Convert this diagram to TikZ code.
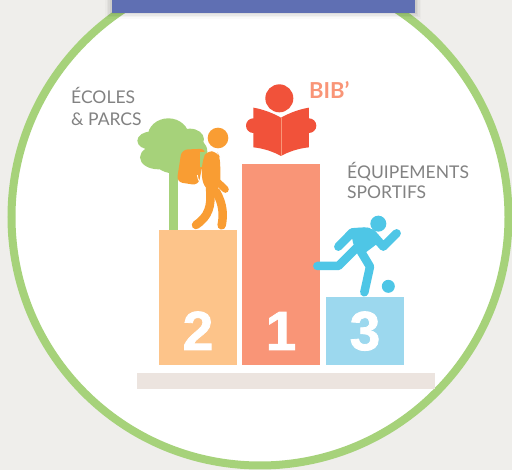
\documentclass[tikz,border=0pt]{standalone}
\usepackage{fontspec}
\setmainfont{Lato}
\newfontfamily\digitfont{Liberation Sans}[FakeBold=1.5]
\definecolor{bgc}{HTML}{EFEEEB}
\definecolor{ringc}{HTML}{A6D27A}
\definecolor{bannerc}{HTML}{5F6FB3}
\definecolor{basec}{HTML}{ECE4DF}
\definecolor{orangeL}{HTML}{FDC48A}
\definecolor{salmon}{HTML}{F99577}
\definecolor{skyL}{HTML}{9CD8EE}
\definecolor{hiker}{HTML}{F99D33}
\definecolor{reader}{HTML}{F1523A}
\definecolor{runner}{HTML}{4EC6E6}
\definecolor{labelc}{HTML}{828282}
\tikzset{
  rank/.style={text=white,font=\digitfont\fontsize{55}{55}\selectfont\bfseries,anchor=base,inner sep=0pt},
  lab/.style={text=labelc,font=\fontsize{17.5}{17.5}\selectfont,anchor=base west,inner sep=0pt},
  limb/.style={line cap=round,line join=round}
}
\begin{document}
\begin{tikzpicture}[x=1pt,y=-1pt]
\useasboundingbox (0,0) rectangle (512,470);
\clip (0,0) rectangle (512,470);
\fill[bgc] (0,0) rectangle (512,470);
\fill[white,draw=ringc,line width=8pt] (260,217) circle (248.5);
% banner shadow
\foreach \d/\o in {6/.02,4.5/.03,3/.04,1.5/.05}{
  \fill[black,opacity=\o] (111-\d,-5) rectangle (415+\d,13+\d);
}
\fill[bannerc] (111.5,-5) rectangle (414.5,13);
% base
\fill[basec] (137,373) rectangle (435,389);
% tree
\begin{scope}[shift={(130,80)},x=.3333pt,y=-.3333pt]
  \fill[ringc] (117,270) rectangle (143,450);
  \fill[ringc] (115,170) ellipse (62 and 55);
  \fill[ringc] (62,182) ellipse (40 and 27);
  \fill[ringc] (85,232) ellipse (55 and 36);
  \fill[ringc] (180,178) ellipse (42 and 32);
  \fill[ringc] (130,225) ellipse (65 and 55);
  \fill[ringc] (190,215) ellipse (42 and 42);
\end{scope}
% podiums
\fill[orangeL] (159,230) rectangle (237,365);
\fill[salmon] (242,164) rectangle (320,365);
\fill[skyL] (326,297) rectangle (404,365);
\node[rank] (two) at (198,350) {2};
\node[rank] (one) at (281,350) {1};
\node[rank] (three) at (365,350) {3};
% hiker
\begin{scope}[shift={(130,80)},x=.3333pt,y=-.3333pt]
  \fill[hiker] (264,174) circle (31);
  \fill[hiker,rounded corners=6pt] (155,209) -- (228,206) -- (205,316) -- (140,306) -- cycle;
  \fill[ringc] (209,216) rectangle (226,262);
  \draw[white,line width=.8pt] (202,285) .. controls (204,300) and (210,312) .. (222,320);
  \fill[hiker,rounded corners=6pt] (230,212) -- (262,216) -- (270,232) -- (272,305) -- (255,345) -- (225,325) -- (214,290) -- (218,240) -- cycle;
  \draw[hiker,limb,line width=7pt] (262,305) -- (286,328);
  \draw[hiker,limb,line width=8.5pt] (240,325) .. controls (246,380) and (235,410) .. (198,435);
  \draw[hiker,limb,line width=8.5pt] (258,335) .. controls (282,375) and (280,410) .. (275,436);
\end{scope}
% reader
\begin{scope}[shift={(240,70)},x=.3333pt,y=-.3333pt]
  \fill[reader] (118,85) circle (42);
  \fill[reader] (40,167) circle (22);
  \fill[reader] (207,167) circle (22);
  \fill[reader] (40,113) .. controls (70,118) and (100,130) .. (123,143)
     .. controls (146,130) and (176,118) .. (207,113)
     -- (207,232) .. controls (176,235) and (146,245) .. (123,258)
     .. controls (100,245) and (70,235) .. (40,232) -- cycle;
  \draw[salmon,line width=.4pt] (123,143) -- (123,258);
\end{scope}
% runner
\begin{scope}[shift={(305,205)},x=.3333pt,y=-.3333pt]
  \fill[runner] (220,56) circle (24);
  \fill[runner] (250,244) circle (19.5);
  \fill[runner,rounded corners=3pt] (135,70) -- (196,67) -- (225,110) -- (172,150) -- (146,122) -- cycle;
  \draw[runner,limb,line width=8.5pt] (100,125) -- (142,82) -- (180,80);
  \draw[runner,limb,line width=8.5pt] (200,85) -- (235,125) -- (275,85);
  \draw[runner,limb,line width=8.5pt] (37,183) -- (100,183) -- (158,125);
  \draw[runner,limb,line width=8.5pt] (165,135) -- (195,185) -- (178,262);
\end{scope}
% labels
\node[lab] (ecoles) at (71,104) {ÉCOLES};
\node[lab] (parcs) at (71,126) {\& PARCS};
\node[lab] (equip) at (347,179) {ÉQUIPEMENTS};
\node[lab] (sport) at (347,199) {SPORTIFS};
\node[anchor=base west,inner sep=0pt,text=salmon,font=\fontsize{22}{22}\selectfont\bfseries] (bib) at (309,99) {BIB’};
\end{tikzpicture}
\end{document}
